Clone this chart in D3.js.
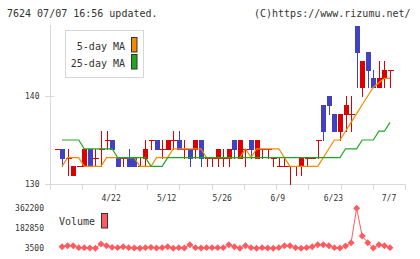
<!DOCTYPE html>
<html><head><meta charset="utf-8">
<script src="https://cdn.jsdelivr.net/npm/d3@7"></script>
<style>
body{margin:0;background:#fff;}
text{font-family:"DejaVu Sans Mono",monospace;fill:#333;}
</style></head>
<body><svg id="c" width="420" height="259"></svg>
<script>
// ---- data ----
const opens  = [134,134,133,131,132,132,134,133,134,135,135,133,133,133,133,132,133,135,135,134,134,135,135,134,134,134,135,133,133,133,133,133,135,133,134,135,133,134,134,133,132,132,132,132,132,133,133,135,139,140,138,136,138,138,148,141,145,142,141,142,143];
const highs  = [134,134,134,132,132,134,134,134,136,136,135,133,133,134,133,133,135,135,135,135,135,136,136,135,134,135,135,133,133,134,134,134,135,135,134,135,135,134,134,133,133,133,132,132,133,133,133,135,139,140,138,138,140,140,148,144,145,143,144,144,143];
const lows   = [134,132,131,131,132,132,132,132,132,134,134,132,132,132,132,132,132,134,134,133,134,134,134,133,132,133,132,132,132,132,132,132,133,133,132,133,133,133,133,132,132,132,130,131,131,132,133,133,135,138,136,135,136,136,141,140,141,141,141,141,141];
const closes = [134,133,133,132,132,134,132,133,134,135,134,132,133,132,132,132,134,135,134,134,135,135,134,134,133,135,133,133,133,134,133,134,134,135,134,134,135,134,134,133,132,132,132,132,133,133,133,135,136,139,136,138,139,138,145,144,143,141,142,143,143];
const ma5  = [null,132,133,133,133,132,132,132,132,133,133,133,133,133,133,132,132,132,133,133,133,134,134,134,134,134,134,133,133,133,133,133,133,133,134,133,134,134,134,134,134,133,132,132,132,132,132,132,133,134,135,135,136,137,138,139,140,141,141.5,142,142];
const ma25 = [null,135,135,135,135,134,134,134,134,134,134,133,133,133,133,133,133,132,132,132,133,133,133,133,133,133,133,133,133,133,133,133,133,133,133,133,133,133,133,133,133,133,133,133,133,133,133,133,133,133,133,133,134,134,134,135,135,135,136,136,137];
const volumes = [null,18000,27000,27000,9500,9500,6000,4500,42000,27000,12000,9500,18000,9500,6000,4500,9500,12000,6000,9500,18000,4500,9500,6000,36000,9500,6000,9500,9500,9500,9500,36000,18000,3500,27000,9500,4500,9500,6000,4500,9500,27000,27000,9500,4500,9500,18000,36000,36000,27000,9500,6000,24000,54000,362200,114000,54000,6000,36000,27000,9500];
const dateLabels = ["4/22","5/12","5/26","6/9","6/23","7/7"];
const dateIndex  = [10,20,30,40,50,60];
const priceTicks = [130,140];
const volTicks = [3500,182850,362200];
const volTickLabels = ["3500","182850","362200"];
const maNames = ["5-day MA","25-day MA"];

// ---- styles ----
const RED="#dd0000", BLUE="#4141c1", ORANGE="#f28b00", GREEN="#1ea81e", VOL="#ff5a60", AXIS="#d9d9d9";

const svg = d3.select("#c");
svg.append("rect").attr("width",420).attr("height",259).attr("fill","#fff");

const n = opens.length;
const x = d3.scaleLinear().domain([0, n-1]).range([56.5, 390]);
const y = d3.scaleLinear().domain([130, 148]).range([184, 25.6]);
const yv = d3.scaleLinear().domain([3500, 362200]).range([248.3, 208.3]);

// header
svg.append("text").attr("x",7).attr("y",17).style("font-size","10px").text("7624 07/07 16:56 updated.");
svg.append("text").attr("x",254).attr("y",17).style("font-size","10px").text("(C)https://www.rizumu.net/");

// axes
const g = svg.append("g").attr("shape-rendering","crispEdges");
g.append("line").attr("x1",50.5).attr("x2",50.5).attr("y1",25).attr("y2",190).attr("stroke",AXIS);
g.append("line").attr("x1",45).attr("x2",406).attr("y1",184.5).attr("y2",184.5).attr("stroke",AXIS);
const xt = d3.scaleLinear().domain([0,11]).range([50, 405.3]);
d3.range(12).forEach(k=>{
  g.append("line").attr("x1",Math.round(xt(k))+0.5).attr("x2",Math.round(xt(k))+0.5).attr("y1",184).attr("y2",190).attr("stroke",AXIS);
});
priceTicks.forEach(p=>{
  g.append("line").attr("x1",45).attr("x2",54).attr("y1",Math.round(y(p))+0.5).attr("y2",Math.round(y(p))+0.5).attr("stroke",AXIS);
  svg.append("text").attr("x",39.5).attr("y",y(p)+2.8).attr("text-anchor","end").style("font-size","8px").text(p);
});
dateLabels.forEach((d,k)=>{
  svg.append("text").attr("x",x(dateIndex[k])-1).attr("y",201).attr("text-anchor","middle").style("font-size","8px").text(d);
});

// candles
const cg = svg.append("g").attr("shape-rendering","crispEdges");
for(let i=0;i<n;i++){
  const o=opens[i],h=highs[i],l=lows[i],c=closes[i];
  const col = c<o ? BLUE : RED;
  const cx = Math.round(x(i));
  if(h>l) cg.append("line").attr("x1",cx+0.5).attr("x2",cx+0.5).attr("y1",Math.round(y(h))).attr("y2",Math.round(y(l))+1).attr("stroke",col);
  if(o===c){
    cg.append("rect").attr("x",cx-2).attr("width",6).attr("y",Math.round(y(c))).attr("height",1).attr("fill",col);
  } else {
    const top=Math.round(y(Math.max(o,c))), bot=Math.round(y(Math.min(o,c)));
    cg.append("rect").attr("x",cx-2).attr("width",5).attr("y",top).attr("height",bot-top+1).attr("fill",col);
  }
}

// MA lines
const line = d3.line().defined(d=>d.v!=null).x(d=>x(d.i)).y(d=>y(d.v));
svg.append("path").datum(ma5.map((v,i)=>({i,v}))).attr("d",line).attr("fill","none").attr("stroke",ORANGE).attr("stroke-width",1.2);
svg.append("path").datum(ma25.map((v,i)=>({i,v}))).attr("d",line).attr("fill","none").attr("stroke",GREEN).attr("stroke-width",1.2);

// legend
const lg = svg.append("g");
lg.append("rect").attr("x",65.5).attr("y",30.5).attr("width",78).attr("height",47).attr("fill","#fff").attr("stroke","#d6d6d6").attr("shape-rendering","crispEdges");
[ORANGE,GREEN].forEach((col,k)=>{
  lg.append("text").attr("x",125).attr("y",50+k*16.7).attr("text-anchor","end").style("font-size","10px").text(maNames[k]);
  lg.append("rect").attr("x",131.5).attr("y",37.5+k*17).attr("width",5.5).attr("height",14.5).attr("fill",col).attr("stroke","#333");
});

// volume
volTicks.forEach((v,k)=>{
  svg.append("text").attr("x",44).attr("y",yv(v)+2.8).attr("text-anchor","end").style("font-size","8px").text(volTickLabels[k]);
});
svg.append("text").attr("x",59).attr("y",225).style("font-size","10px").text("Volume");
svg.append("rect").attr("x",101.5).attr("y",213.5).attr("width",6).attr("height",14.5).attr("fill",VOL).attr("stroke","#333");
const vdata = volumes.map((v,i)=>({i,v})).filter(d=>d.v!=null);
svg.append("path").datum(vdata).attr("d",d3.line().x(d=>x(d.i)).y(d=>yv(d.v))).attr("fill","none").attr("stroke",VOL).attr("stroke-width",1);
svg.append("g").selectAll("path").data(vdata).join("path")
  .attr("d",d3.symbol(d3.symbolSquare,24))
  .attr("transform",d=>`translate(${x(d.i)},${yv(d.v)}) rotate(45)`)
  .attr("fill",VOL);
</script></body></html>
